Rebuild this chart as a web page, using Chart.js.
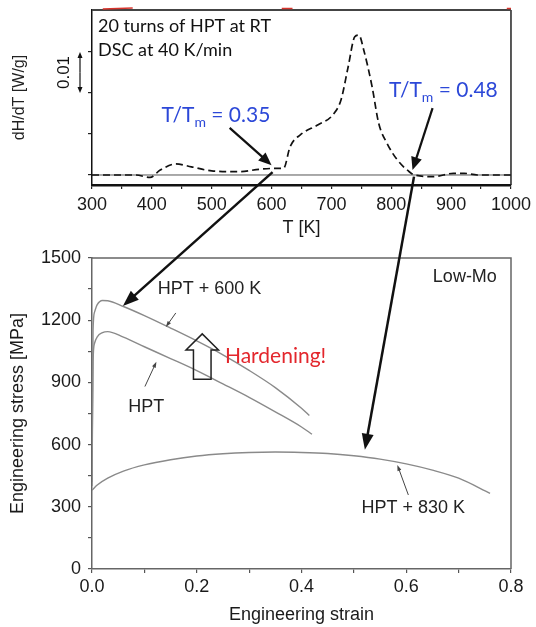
<!DOCTYPE html>
<html><head><meta charset="utf-8">
<script src="https://cdn.jsdelivr.net/npm/chart.js@4.4.1/dist/chart.umd.min.js"></script>
<style>
html,body{margin:0;padding:0;background:#fff;}
#wrap{position:relative;width:536px;height:627px;overflow:hidden;background:#fff;}
canvas{position:absolute;left:0;}
</style></head><body>
<div id="wrap">
<canvas id="dsc" width="536" height="240" style="top:0"></canvas>
<canvas id="ss" width="536" height="387" style="top:240px"></canvas>
<canvas id="ov" width="536" height="627" style="top:0;pointer-events:none"></canvas>
</div>
<script>
// ---------- DSC (top) data ----------
const dscTemp = [300, 373, 397, 414, 440, 466, 500, 546, 580, 602, 620, 631, 648, 677, 702, 716, 728, 739, 746, 754, 768, 779, 793, 810, 830, 839, 870, 904, 922, 944, 1000];
const dscHeatFlow = [0, 0, -0.0006, 0.0012, 0.0027, 0.0020, 0.0010, 0.0008, 0.0014, 0.0016, 0.0016, 0.0069, 0.0098, 0.0122, 0.0146, 0.0183, 0.0264, 0.0337, 0.0341, 0.0305, 0.0215, 0.0126, 0.0077, 0.0037, 0.0008, 0, -0.0004, 0.0004, 0.0004, 0, 0];
const dscBaselineTemp = [300, 1000];
const dscBaselineFlow = [0, 0];
const tempTicks = [300, 350, 400, 450, 500, 550, 600, 650, 700, 750, 800, 850, 900, 950, 1000];
const heatTicks = [0, 0.01, 0.02, 0.03];
const redMarkTemp = [318, 368, null, 617, 635, null, 993, 1000];
const redMarkFlow = [0.0405, 0.0407, null, 0.0406, 0.0406, null, 0.0406, 0.0406];

// ---------- Tensile (bottom) data ----------
const strainHPT = [0, 0.002, 0.005, 0.01, 0.02, 0.03, 0.06, 0.1, 0.15, 0.2, 0.25, 0.3, 0.35, 0.4, 0.42];
const stressHPT = [400, 1000, 1090, 1120, 1140, 1145, 1118, 1072, 1015, 957, 893, 828, 758, 685, 650];
const strain600 = [0, 0.002, 0.005, 0.01, 0.02, 0.03, 0.06, 0.1, 0.15, 0.2, 0.25, 0.3, 0.35, 0.4, 0.415];
const stress600 = [420, 1150, 1240, 1275, 1295, 1294, 1266, 1222, 1162, 1100, 1033, 958, 875, 775, 740];
const strain830 = [0, 0.01, 0.03, 0.06, 0.1, 0.15, 0.2, 0.25, 0.3, 0.35, 0.4, 0.45, 0.5, 0.55, 0.6, 0.65, 0.7, 0.76];
const stress830 = [380, 405, 438, 472, 502, 527, 545, 556, 562, 564, 562, 557, 546, 530, 507, 477, 438, 365];
const strainTicks = [0, 0.1, 0.2, 0.3, 0.4, 0.5, 0.6, 0.7, 0.8];
const stressTicks = [0, 150, 300, 450, 600, 750, 900, 1050, 1200, 1350, 1500];

const SANS = "'Liberation Sans', Arial, sans-serif";
const CAL = "Lato, 'Open Sans', sans-serif";
Chart.defaults.font.family = SANS;

function pts(xs, ys){ return xs.map((x,i)=>({x:x === null ? NaN : x, y:ys[i]})); }

function drawArrow(ctx, x1, y1, x2, y2, o){
  const a = Math.atan2(y2-y1, x2-x1);
  const bx = x2 - o.headLen*Math.cos(a), by = y2 - o.headLen*Math.sin(a);
  ctx.save();
  ctx.strokeStyle = o.color; ctx.fillStyle = o.color; ctx.lineWidth = o.width; ctx.lineCap='butt';
  ctx.beginPath(); ctx.moveTo(x1,y1); ctx.lineTo(bx + Math.cos(a)*1, by + Math.sin(a)*1); ctx.stroke();
  ctx.beginPath(); ctx.moveTo(x2,y2);
  ctx.lineTo(bx + o.headW/2*Math.sin(a), by - o.headW/2*Math.cos(a));
  ctx.lineTo(bx - o.headW/2*Math.sin(a), by + o.headW/2*Math.cos(a));
  ctx.closePath(); ctx.fill();
  ctx.restore();
}

function P(chart, x, y){ return {x: chart.scales.x.getPixelForValue(x), y: chart.scales.y.getPixelForValue(y)}; }

// ---------- annotations (positions in data units) ----------
const dscTexts = [
  {text:'20 turns of HPT at RT', x:310, y:0.0363, size:18},
  {text:'DSC at 40 K/min', x:310, y:0.0305, size:18}
];
const dscRatioLabels = [
  {pre:'T/T', sub:'m', post:' = 0.35', x:416, y:0.0146},
  {pre:'T/T', sub:'m', post:' = 0.48', x:796, y:0.0207}
];
const dscArrows = [
  {from:[530, 0.0115], to:[600, 0.0024]},
  {from:[869, 0.0163], to:[835.5, 0.0012]}
];

const dscPlugin = {
  id:'dscAnno',
  afterDatasetsDraw(chart){
    const ctx = chart.ctx, ca = chart.chartArea;
    ctx.save();
    // frame
    ctx.strokeStyle = '#222'; ctx.lineWidth = 1.5;
    ctx.beginPath(); ctx.moveTo(ca.right, ca.top); ctx.lineTo(ca.right, ca.bottom); ctx.stroke();
    ctx.strokeStyle = '#444'; ctx.lineWidth = 2;
    ctx.beginPath(); ctx.moveTo(ca.left, ca.top); ctx.lineTo(ca.right, ca.top); ctx.stroke();
    // red fragments sitting on the top border (redrawn above the frame)
    const red = chart.getDatasetMeta(2);
    if (red && red.dataset) { red.dataset.draw(ctx); }
    // texts
    ctx.fillStyle = '#111'; ctx.textBaseline = 'middle'; ctx.textAlign = 'left';
    dscTexts.forEach(t => { ctx.font = t.size + 'px ' + CAL; const p = P(chart, t.x, t.y); ctx.fillText(t.text, p.x, p.y); });
    ctx.fillStyle = '#2c48d8';
    dscRatioLabels.forEach(t => {
      const p = P(chart, t.x, t.y);
      ctx.font = '21px ' + CAL; ctx.fillText(t.pre, p.x, p.y);
      let w = ctx.measureText(t.pre).width;
      ctx.font = '14px ' + CAL; ctx.fillText(t.sub, p.x + w, p.y + 7);
      w += ctx.measureText(t.sub).width;
      ctx.font = '21px ' + CAL; ctx.fillText(t.post, p.x + w, p.y);
    });
    dscArrows.forEach(a => {
      const p1 = P(chart, a.from[0], a.from[1]), p2 = P(chart, a.to[0], a.to[1]);
      drawArrow(ctx, p1.x, p1.y, p2.x, p2.y, {color:'#111', width:2.2, headLen:13, headW:11});
    });
    // scale bar 0.01
    const ys = chart.scales.y;
    const yA = ys.getPixelForValue(0.03), yB = ys.getPixelForValue(0.02), xb = ca.left - 12;
    const ym = (yA+yB)/2;
    drawArrow(ctx, xb, ym, xb, yA, {color:'#111', width:1.2, headLen:6, headW:5});
    drawArrow(ctx, xb, ym, xb, yB, {color:'#111', width:1.2, headLen:6, headW:5});
    ctx.save();
    ctx.translate(ca.left - 28, ym); ctx.rotate(-Math.PI/2);
    ctx.font = '17px ' + SANS; ctx.fillStyle = '#111'; ctx.textAlign = 'center'; ctx.textBaseline = 'middle';
    ctx.fillText('0.01', 0, 0);
    ctx.restore();
    ctx.restore();
  }
};

const dscChart = new Chart(document.getElementById('dsc'), {
  type:'line',
  data:{datasets:[
    {data: pts(dscTemp, dscHeatFlow), borderColor:'#111', borderWidth:1.7, borderDash:[7,4], pointRadius:0, cubicInterpolationMode:'monotone', fill:false},
    {data: pts(dscBaselineTemp, dscBaselineFlow), borderColor:'#555', borderWidth:1, pointRadius:0, fill:false},
    {data: pts(redMarkTemp, redMarkFlow), borderColor:'#d8342c', borderWidth:1.5, pointRadius:0, spanGaps:false, fill:false}
  ]},
  options:{
    responsive:false, animation:false, events:[],
    plugins:{legend:{display:false}, tooltip:{enabled:false}},
    layout:{padding:{left:0, right:24, top:10, bottom:0}},
    scales:{
      x:{type:'linear', min:300, max:1000,
        afterBuildTicks: s => { s.ticks = tempTicks.map(v => ({value:v})); },
        afterFit: s => { s.height = 55; },
        grid:{drawOnChartArea:false, drawTicks:true, tickLength:4, color:'#222', lineWidth:1.2},
        border:{color:'#111', width:2.5},
        ticks:{autoSkip:false, maxRotation:0, padding:5, color:'#1a1a1a', font:{size:18, family:SANS},
          callback: v => (v % 100 === 0 ? String(v) : '')},
        title:{display:true, text:'T [K]', color:'#1a1a1a', font:{size:18, family:SANS}, padding:{top:0, bottom:1}}
      },
      y:{type:'linear', min:-0.00244, max:0.04024,
        afterBuildTicks: s => { s.ticks = heatTicks.map(v => ({value:v})); },
        afterFit: s => { s.width = 92; },
        grid:{drawOnChartArea:false, drawTicks:true, tickLength:4, color:'#222', lineWidth:1.2},
        border:{color:'#111', width:1.5},
        ticks:{display:false},
        title:{display:true, text:'dH/dT [W/g]', color:'#222', font:{size:16, family:SANS}, padding:{top:10, bottom:0}}
      }
    }
  },
  plugins:[dscPlugin]
});

// ---------- tensile annotations ----------
const ssTexts = [
  {text:'HPT + 600 K', x:0.1254, y:1349, color:'#222', font:'18px ' + SANS},
  {text:'HPT', x:0.0693, y:783, color:'#222', font:'18px ' + SANS},
  {text:'HPT + 830 K', x:0.5147, y:293, color:'#222', font:'18px ' + SANS},
  {text:'Low-Mo', x:0.6508, y:1410, color:'#222', font:'18px ' + SANS},
  {text:'Hardening!', x:0.2538, y:1024, color:'#e3262c', font:'21px ' + CAL}
];
const ssThinArrows = [
  {from:[0.160, 1235], to:[0.141, 1167]},
  {from:[0.101, 880], to:[0.123, 1000]},
  {from:[0.604, 357], to:[0.583, 502]}
];
const hardeningArrow = {x:0.2105, tip:1134, headBase:1056, bottom:915, shaftHalf:0.0168, headHalf:0.031};

const ssPlugin = {
  id:'ssAnno',
  afterDatasetsDraw(chart){
    const ctx = chart.ctx, ca = chart.chartArea;
    ctx.save();
    ctx.strokeStyle = '#666'; ctx.lineWidth = 1.5;
    ctx.beginPath(); ctx.moveTo(ca.left, ca.top); ctx.lineTo(ca.right, ca.top); ctx.lineTo(ca.right, ca.bottom); ctx.stroke();
    ctx.textBaseline = 'middle'; ctx.textAlign = 'left';
    ssTexts.forEach(t => { ctx.font = t.font; ctx.fillStyle = t.color; const p = P(chart, t.x, t.y); ctx.fillText(t.text, p.x, p.y); });
    ssThinArrows.forEach(a => {
      const p1 = P(chart, a.from[0], a.from[1]), p2 = P(chart, a.to[0], a.to[1]);
      drawArrow(ctx, p1.x, p1.y, p2.x, p2.y, {color:'#444', width:1, headLen:6, headW:4});
    });
    const h = hardeningArrow;
    const q = [
      [h.x - h.shaftHalf, h.bottom], [h.x - h.shaftHalf, h.headBase], [h.x - h.headHalf, h.headBase],
      [h.x, h.tip], [h.x + h.headHalf, h.headBase], [h.x + h.shaftHalf, h.headBase], [h.x + h.shaftHalf, h.bottom]
    ].map(v => P(chart, v[0], v[1]));
    ctx.beginPath(); q.forEach((p,i) => i ? ctx.lineTo(p.x, p.y) : ctx.moveTo(p.x, p.y)); ctx.closePath();
    ctx.strokeStyle = '#222'; ctx.lineWidth = 1.5; ctx.stroke();
    ctx.restore();
  }
};

const curveStyle = {borderColor:'#8a8a8a', borderWidth:1.4, pointRadius:0, cubicInterpolationMode:'monotone', fill:false};
const ssChart = new Chart(document.getElementById('ss'), {
  type:'line',
  data:{datasets:[
    Object.assign({label:'HPT', data: pts(strainHPT, stressHPT)}, curveStyle),
    Object.assign({label:'HPT + 600 K', data: pts(strain600, stress600)}, curveStyle),
    Object.assign({label:'HPT + 830 K', data: pts(strain830, stress830)}, curveStyle)
  ]},
  options:{
    responsive:false, animation:false, events:[],
    plugins:{legend:{display:false}, tooltip:{enabled:false}},
    layout:{padding:{left:0, right:25, top:18, bottom:0}},
    scales:{
      x:{type:'linear', min:0, max:0.8,
        afterBuildTicks: s => { s.ticks = strainTicks.map(v => ({value:v})); },
        afterFit: s => { s.height = 58; },
        grid:{drawOnChartArea:false, drawTicks:true, tickLength:4, color:'#555', lineWidth:1.2},
        border:{color:'#666', width:1.5},
        ticks:{autoSkip:false, maxRotation:0, padding:3, color:'#1a1a1a', font:{size:18, family:SANS},
          callback: v => (Math.round(v*10) % 2 === 0 ? v.toFixed(1) : '')},
        title:{display:true, text:'Engineering strain', color:'#1a1a1a', font:{size:18, family:SANS}, padding:{top:0, bottom:1}}
      },
      y:{type:'linear', min:0, max:1500,
        afterBuildTicks: s => { s.ticks = stressTicks.map(v => ({value:v})); },
        afterFit: s => { s.width = 92; },
        grid:{drawOnChartArea:false, drawTicks:true, tickLength:4, color:'#555', lineWidth:1.2},
        border:{color:'#666', width:1.5},
        ticks:{autoSkip:false, padding:7, color:'#1a1a1a', font:{size:18, family:SANS},
          callback: v => (v % 300 === 0 ? String(v) : '')},
        title:{display:true, text:'Engineering stress [MPa]', color:'#1a1a1a', font:{size:18, family:SANS}, padding:{top:7, bottom:0}}
      }
    }
  },
  plugins:[ssPlugin]
});

// ---------- cross-panel arrows ----------
const crossArrows = [
  {fromTop:[601.7, 0.0007], toBottom:[0.059, 1269]},
  {fromTop:[838, -0.0004], toBottom:[0.521, 575]}
];
(function(){
  const ov = document.getElementById('ov'), ctx = ov.getContext('2d');
  const topOff = 0, botOff = 240;
  crossArrows.forEach(a => {
    const p1 = P(dscChart, a.fromTop[0], a.fromTop[1]);
    const p2 = P(ssChart, a.toBottom[0], a.toBottom[1]);
    drawArrow(ctx, p1.x, p1.y + topOff, p2.x, p2.y + botOff, {color:'#111', width:2.5, headLen:16, headW:12});
  });
})();
</script>
</body></html>
